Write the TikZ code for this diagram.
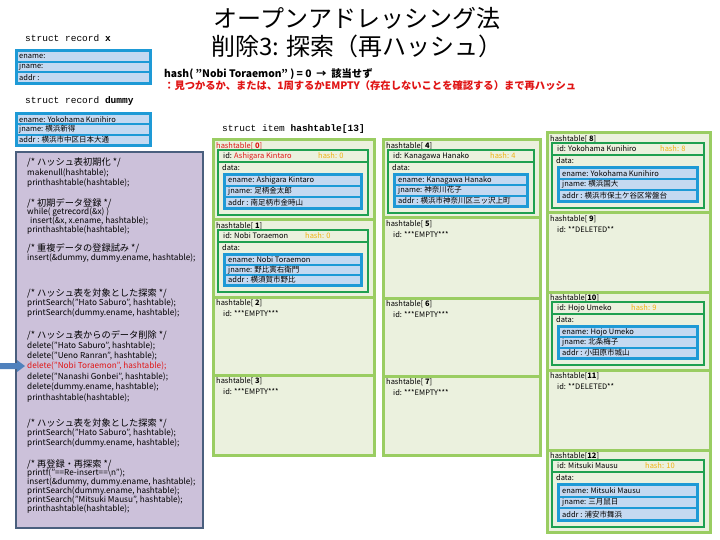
\documentclass[tikz,border=0pt]{standalone}
\usepackage{fontspec}
\setmainfont{Noto Sans CJK JP}
\setmonofont{Liberation Mono}
\definecolor{panelfill}{HTML}{CCC1DA}
\definecolor{panelborder}{HTML}{4A5F7E}
\definecolor{cellborder}{HTML}{9ACD62}
\definecolor{cellfill}{HTML}{EBF1DE}
\definecolor{greenbox}{HTML}{1FA050}
\definecolor{bluebox}{HTML}{1E9AD6}
\definecolor{rowfill}{HTML}{C5D9F1}
\definecolor{hashcol}{HTML}{EEB211}
\definecolor{hred}{HTML}{E01515}
\definecolor{arrowblue}{HTML}{4F81BD}

% ---- cell helpers ----
\newcommand{\setcell}[5]{\def\ci{#1}\def\xa{#2}\def\xb{#3}\def\ya{#4}\def\yb{#5}%
  \draw[cellborder, line width=3pt, fill=cellfill] (\xa,\ya) rectangle (\xb,\yb);}
\newcommand{\celllabel}[1]{\node[txt] (lbl\ci) at (\xa+3,\ya+6) {#1};}
\newcommand{\idrow}[3]{%
  \draw[greenbox, line width=2.5pt, fill=cellfill] (\xa+5,\ya+10) rectangle (\xb-6,\yb-5);
  \draw[greenbox, line width=2pt] (\xa+5,\ya+22) -- (\xb-6,\ya+22);
  \node[txt] (id\ci) at (\xa+10,\ya+16) {id: #1};
  \node[txt, text=hashcol] (hash\ci) at (#2,\ya+16) {hash: #3};
  \node[txt] (data\ci) at (\xa+9,\ya+28) {data:};}
\newcommand{\onerow}[3]{%
  \pgfmathsetmacro{\rt}{\bt+3+#1*(\rh+2)}%
  \fill[rowfill] (\xa+13,\rt) rectangle (\xb-14,\rt+\rh);
  \node[txt] (#3) at (\xa+15,\rt+\rh/2) {#2};}
\newcommand{\datarows}[3]{%
  \pgfmathsetmacro{\bt}{\ya+33}\pgfmathsetmacro{\bb}{\yb-10}%
  \pgfmathsetmacro{\rh}{(\bb-\bt-10)/3}%
  \fill[bluebox] (\xa+10,\bt) rectangle (\xb-11,\bb);
  \onerow{0}{ename: #1}{en\ci}
  \onerow{1}{jname: #2}{jn\ci}
  \onerow{2}{addr : #3}{ad\ci}}
\newcommand{\emptyid}[1]{\node[txt] (id\ci) at (\xa+10,\ya+17) {id: #1};}
% ---- record boxes ----
\newcommand{\recbox}[6]{%
  \pgfmathsetmacro{\rbh}{(#3-#2-10)/3}%
  \fill[bluebox] (15,#2) rectangle (152,#3);
  \pgfmathsetmacro{\rrt}{#2+3}\fill[rowfill] (18,\rrt) rectangle (149,\rrt+\rbh);
  \node[txt] (#1e) at (19,\rrt+\rbh/2) {#4};
  \pgfmathsetmacro{\rrt}{#2+5+\rbh}\fill[rowfill] (18,\rrt) rectangle (149,\rrt+\rbh);
  \node[txt] (#1j) at (19,\rrt+\rbh/2) {#5};
  \pgfmathsetmacro{\rrt}{#2+7+2*\rbh}\fill[rowfill] (18,\rrt) rectangle (149,\rrt+\rbh);
  \node[txt] (#1a) at (19,\rrt+\rbh/2) {#6};}
% ---- code lines ----
\newcommand{\cl}[3]{\node[codetxt] (#1) at (27,#2) {#3};}
\newcommand{\cm}[3]{\node[cmttxt] (#1) at (27,#2) {#3};}

\begin{document}
\begin{tikzpicture}[x=1pt,y=-1pt,
  txt/.style={inner sep=0pt, anchor=west, font=\fontsize{7.5}{8}\selectfont},
  codetxt/.style={inner sep=0pt, anchor=west, font=\fontsize{8.2}{8.5}\selectfont},
  cmttxt/.style={inner sep=0pt, anchor=west, font=\fontsize{9.2}{9.5}\selectfont},
  monotxt/.style={inner sep=0pt, anchor=west, font=\ttfamily\fontsize{9.5}{10}\selectfont},
  headtxt/.style={inner sep=0pt, anchor=west, font=\bfseries\fontsize{10.3}{11}\selectfont}]
\useasboundingbox[fill=white] (0,0) rectangle (720,540);

% title
\node[inner sep=0pt, font=\fontsize{24}{26}\selectfont] (title1) at (357,18) {オープンアドレッシング法};
\node[inner sep=0pt, font=\fontsize{24}{26}\selectfont] (title2) at (357,46) {削除3: 探索（再ハッシュ）};

% header lines
\node[headtxt] (hashline) at (164,74) {hash( "Nobi Toraemon" ) = 0 \ → \ 該当せず};
\node[headtxt, text=hred] (rehash) at (164,86) {：見つかるか、または、1周するかEMPTY（存在しないことを確認する）まで再ハッシュ};

% struct record x / dummy
\node[monotxt] (recxhead) at (25,38) {struct record \textbf{x}};
\recbox{recx}{49}{85}{ename:}{jname:}{addr :}
\node[monotxt] (recdhead) at (25,101) {struct record \textbf{dummy}};
\recbox{recd}{112}{147}{ename: Yokohama Kunihiro}{jname: 横浜新得}{addr : 横浜市中区日本大通}

% code panel
\draw[panelborder, line width=1.5pt, fill=panelfill] (16,152) rectangle (203,528);
\cm{c01}{162}{/* ハッシュ表初期化 */}
\cl{c02}{173}{makenull(hashtable);}
\cl{c03}{183}{printhashtable(hashtable);}
\cm{c04}{203}{/* 初期データ登録 */}
\cl{c05}{212}{while( getrecord(\&x) )}
\node[codetxt] (c06) at (30,221) {insert(\&x, x.ename, hashtable);};
\cl{c07}{230}{printhashtable(hashtable);}
\cm{c08}{248}{/* 重複データの登録試み */}
\cl{c09}{258}{insert(\&dummy, dummy.ename, hashtable);}
\cm{c10}{293}{/* ハッシュ表を対象とした探索 */}
\cl{c11}{303}{printSearch("Hato Saburo", hashtable);}
\cl{c12}{313}{printSearch(dummy.ename, hashtable);}
\cm{c13}{335}{/* ハッシュ表からのデータ削除 */}
\cl{c14}{346}{delete("Hato Saburo", hashtable);}
\cl{c15}{356}{delete("Ueno Ranran", hashtable);}
\node[codetxt, text=hred] (c16) at (27,366) {delete("Nobi Toraemon", hashtable);};
\cl{c17}{377}{delete("Nanashi Gonbei", hashtable);}
\cl{c18}{387}{delete(dummy.ename, hashtable);}
\cl{c19}{398}{printhashtable(hashtable);}
\cm{c20}{423}{/* ハッシュ表を対象とした探索 */}
\cl{c21}{433}{printSearch("Hato Saburo", hashtable);}
\cl{c22}{443}{printSearch(dummy.ename, hashtable);}
\cm{c23}{464}{/* 再登録・再探索 */}
\cl{c24}{473}{printf("==Re-insert==\textbackslash n");}
\cl{c25}{482}{insert(\&dummy, dummy.ename, hashtable);}
\cl{c26}{491}{printSearch(dummy.ename, hashtable);}
\cl{c27}{500}{printSearch("Mitsuki Mausu", hashtable);}
\cl{c28}{509}{printhashtable(hashtable);}

% pointer arrow
\fill[arrowblue] (0,363) -- (17,363) -- (17,360) -- (25,366) -- (17,372) -- (17,369) -- (0,369) -- cycle;

% hashtable header
\node[monotxt] (sitem) at (222,129) {struct item \textbf{hashtable[13]}};

% column 1
\setcell{0}{213}{374}{140}{220}
\celllabel{\textcolor{hred}{hashtable[ \textbf{0}]}}
\idrow{\textcolor{hred}{Ashigara Kintaro}}{318}{0}
\datarows{Ashigara Kintaro}{足柄金太郎}{南足柄市金時山}
\setcell{1}{213}{374}{220}{297}
\celllabel{hashtable[ \textbf{1}]}
\idrow{Nobi Toraemon}{305}{0}
\datarows{Nobi Toraemon}{野比寅右衛門}{横須賀市野比}
\setcell{2}{213}{374}{297}{375}
\celllabel{hashtable[ \textbf{2}]}
\emptyid{***EMPTY***}
\setcell{3}{213}{374}{375}{455}
\celllabel{hashtable[ \textbf{3}]}
\emptyid{***EMPTY***}

% column 2
\setcell{4}{383}{540}{140}{218}
\celllabel{hashtable[ \textbf{4}]}
\idrow{Kanagawa Hanako}{490}{4}
\datarows{Kanagawa Hanako}{神奈川花子}{横浜市神奈川区三ッ沢上町}
\setcell{5}{383}{540}{218}{298}
\celllabel{hashtable[ \textbf{5}]}
\emptyid{***EMPTY***}
\setcell{6}{383}{540}{298}{376}
\celllabel{hashtable[ \textbf{6}]}
\emptyid{***EMPTY***}
\setcell{7}{383}{540}{376}{455}
\celllabel{hashtable[ \textbf{7}]}
\emptyid{***EMPTY***}

% column 3
\setcell{8}{547}{710}{133}{213}
\celllabel{hashtable[ \textbf{8}]}
\idrow{Yokohama Kunihiro}{660}{8}
\datarows{Yokohama Kunihiro}{横浜国大}{横浜市保土ケ谷区常盤台}
\setcell{9}{547}{710}{213}{292}
\celllabel{hashtable[ \textbf{9}]}
\emptyid{**DELETED**}
\setcell{10}{547}{710}{292}{370}
\celllabel{hashtable[\textbf{10}]}
\idrow{Hojo Umeko}{631}{9}
\datarows{Hojo Umeko}{北条梅子}{小田原市城山}
\setcell{11}{547}{710}{370}{450}
\celllabel{hashtable[\textbf{11}]}
\emptyid{**DELETED**}
\setcell{12}{547}{710}{450}{532}
\celllabel{hashtable[\textbf{12}]}
\idrow{Mitsuki Mausu}{645}{10}
\datarows{Mitsuki Mausu}{三月鼠日}{浦安市舞浜}
\end{tikzpicture}
\end{document}
